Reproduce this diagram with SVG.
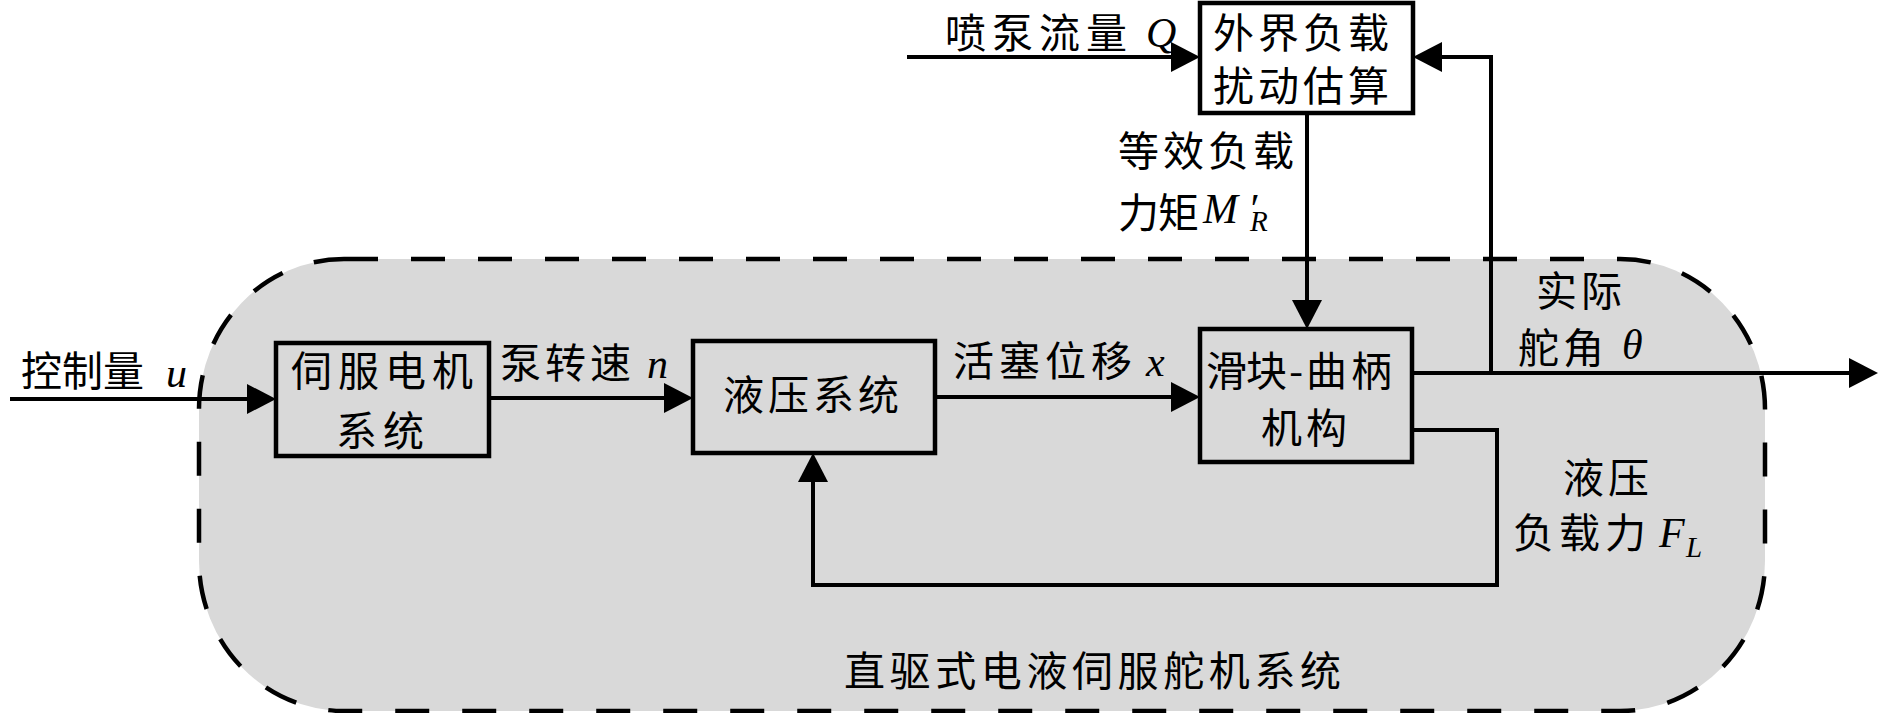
<svg xmlns="http://www.w3.org/2000/svg" width="1890" height="713" viewBox="0 0 1890 713">
<style>
.t{font-family:"Noto Sans CJK SC","Noto Sans CJK TC",sans-serif;font-size:41px;fill:#000}
.m{font-family:"Liberation Serif",serif;font-style:italic;font-size:42px;fill:#000}
.s{font-family:"Liberation Serif",serif;font-style:italic;font-size:29px;fill:#000}
.box{fill:none;stroke:#000;stroke-width:4.5}
.ln{fill:none;stroke:#000;stroke-width:4;marker-end:url(#ah)}
</style>
<defs>
<marker id="ah" markerUnits="userSpaceOnUse" markerWidth="32" markerHeight="32" refX="21" refY="15" orient="auto">
<path d="M0,0 L29,15 L0,30 z" fill="#000"/>
</marker>
</defs>
<g id="system">
<rect x="199" y="259" width="1566" height="452" rx="145" ry="150" fill="#d9d9d9" stroke="#000" stroke-width="4.5" stroke-dasharray="34 33"/>
<text class="t" x="844" y="686" letter-spacing="4.6">直驱式电液伺服舵机系统</text>
</g>
<g id="connectors">
<path class="ln" d="M10,399 H268"/>
<path class="ln" d="M489,398 H685"/>
<path class="ln" d="M935,397 H1192"/>
<path class="ln" d="M1412,373 H1870"/>
<path class="ln" d="M1491,373 V57 H1421"/>
<path class="ln" d="M907,57 H1192"/>
<path class="ln" d="M1307,113 V321"/>
<path class="ln" d="M1412,430 H1497 V585 H813 V461"/>
</g>
<g id="labels">
<text class="t" x="21" y="386">控制量<tspan class="m" x="166" y="387">u</tspan></text>
<text class="t" x="500" y="378" letter-spacing="4">泵转速<tspan class="m" x="647" y="378" letter-spacing="0">n</tspan></text>
<text class="t" x="953" y="376" letter-spacing="5">活塞位移<tspan class="m" x="1146" y="376" letter-spacing="0">x</tspan></text>
<text class="t" x="945" y="48" letter-spacing="6">喷泵流量<tspan class="m" x="1146" y="47" letter-spacing="0">Q</tspan></text>
<text class="t" letter-spacing="4"><tspan x="1118" y="166">等效负载</tspan><tspan x="1118" y="228" letter-spacing="0">力</tspan><tspan x="1158" y="228" letter-spacing="0">矩</tspan><tspan class="m" x="1203" y="223" letter-spacing="0">M</tspan><tspan class="m" x="1248" y="223" letter-spacing="0">′</tspan><tspan class="s" x="1250" y="231" letter-spacing="0">R</tspan></text>
<text class="t" letter-spacing="4"><tspan x="1536" y="306">实际</tspan><tspan x="1518" y="363">舵角</tspan><tspan class="m" x="1622" y="359" letter-spacing="0">θ</tspan></text>
<text class="t" letter-spacing="4"><tspan x="1563" y="493">液压</tspan><tspan x="1513" y="548" letter-spacing="5">负载力</tspan><tspan class="m" x="1659" y="547" letter-spacing="0">F</tspan><tspan class="s" x="1686" y="557" letter-spacing="0">L</tspan></text>
</g>
<g id="servo-motor">
<rect class="box" x="276" y="343" width="213" height="113"/>
<text class="t" letter-spacing="6"><tspan x="291" y="386">伺服电机</tspan><tspan x="336" y="446">系统</tspan></text>
</g>
<g id="hydraulic">
<rect class="box" x="693" y="341" width="242" height="112"/>
<text class="t" x="723" y="410" letter-spacing="4">液压系统</text>
</g>
<g id="slider-crank">
<rect class="box" x="1200" y="329" width="212" height="133"/>
<text class="t"><tspan x="1206" y="386">滑</tspan><tspan x="1246" y="386">块</tspan><tspan x="1289" y="386">-</tspan><tspan x="1306" y="386">曲</tspan><tspan x="1351" y="386">柄</tspan><tspan x="1261" y="443" letter-spacing="4">机构</tspan></text>
</g>
<g id="load-estimator">
<rect class="box" x="1200" y="3" width="213" height="110"/>
<text class="t" letter-spacing="4"><tspan x="1213" y="48">外界负载</tspan><tspan x="1213" y="101">扰动估算</tspan></text>
</g>
</svg>
